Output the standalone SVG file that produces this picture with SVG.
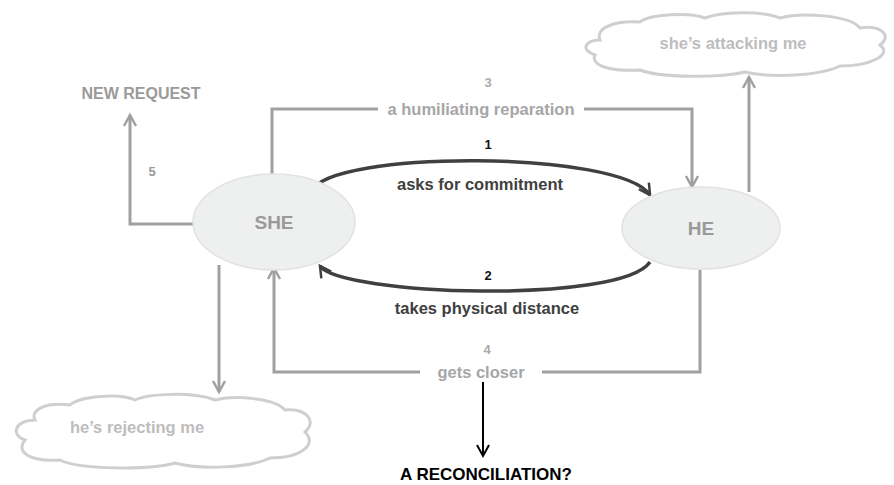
<svg xmlns="http://www.w3.org/2000/svg" width="894" height="485" viewBox="0 0 894 485">
<defs>
<style>
.t{font-family:"Liberation Sans",Arial,sans-serif;font-weight:bold;text-anchor:middle}
.g{fill:none;stroke:#a0a0a0;stroke-width:3}
.d{fill:none;stroke:#404040;stroke-width:3.5}
.node{fill:#eeefef;stroke:#e2e2e2;stroke-width:1.5}
.cloud{fill:#fff;stroke:#cfcfcf;stroke-width:3}
</style>
<marker id="ag" markerUnits="userSpaceOnUse" markerWidth="16" markerHeight="16" refX="12" refY="7" orient="auto" viewBox="0 0 16 16">
<path d="M1,1 L12,7 L1,13" fill="none" stroke="#a0a0a0" stroke-width="2.5"/>
</marker>
<marker id="ad" markerUnits="userSpaceOnUse" markerWidth="16" markerHeight="16" refX="12" refY="7" orient="auto" viewBox="0 0 16 16">
<path d="M1,1 L12,7 L1,13" fill="none" stroke="#404040" stroke-width="2.5"/>
</marker>
<marker id="ab" markerUnits="userSpaceOnUse" markerWidth="16" markerHeight="16" refX="12" refY="7" orient="auto" viewBox="0 0 16 16">
<path d="M1,1 L12,7 L1,13" fill="none" stroke="#000" stroke-width="2"/>
</marker>
</defs>
<rect width="894" height="485" fill="#fff"/>

<g id="connectors">
<!-- 3 humiliating reparation -->
<polyline class="g" points="272,188 272,109 378,109"/>
<polyline class="g" points="584,109 692,109 692,187" marker-end="url(#ag)"/>
<!-- 4 gets closer -->
<polyline class="g" points="700,270 700,372 542,372"/>
<polyline class="g" points="420,372 274,372 274,268" marker-end="url(#ag)"/>
<!-- 5 new request -->
<polyline class="g" points="193,224 130,224 130,115" marker-end="url(#ag)"/>
<!-- to clouds -->
<line class="g" x1="749" y1="192" x2="749" y2="77" marker-end="url(#ag)"/>
<line class="g" x1="219" y1="265" x2="219" y2="392" marker-end="url(#ag)"/>
<!-- 1 -->
<path class="d" d="M312,191 C330,150 620,150 650,195" marker-end="url(#ad)"/>
<!-- 2 -->
<path class="d" d="M650,262 C620,305 340,295 320,266" marker-end="url(#ad)"/>
<!-- reconciliation -->
<line x1="483" y1="382" x2="483" y2="456" stroke="#000" stroke-width="2" marker-end="url(#ab)"/>
</g>

<g id="she">
<ellipse class="node" cx="274" cy="222" rx="81" ry="48"/>
<text class="t" x="274" y="229" font-size="19" fill="#9a9a9a">SHE</text>
</g>
<g id="he">
<ellipse class="node" cx="701" cy="228" rx="79" ry="41"/>
<text class="t" x="701" y="235" font-size="19" fill="#9a9a9a">HE</text>
</g>

<g id="cloud-attacking">
<path class="cloud" d="M600 40 C585 40,580 50,595 55 C590 65,610 72,640 70 C660 78,720 78,745 72 C770 78,820 76,840 66 C870 66,893 55,880 45 C893 35,880 25,860 28 C850 15,800 12,780 18 C760 10,720 12,705 18 C690 12,650 14,640 22 C615 20,595 28,600 40 Z"/>
<text class="t" x="733" y="49" font-size="16.5" fill="#bdbdbd">she’s attacking me</text>
</g>
<g id="cloud-rejecting">
<path class="cloud" d="M35 420 C15 420,10 435,25 440 C15 452,30 462,60 460 C80 470,150 470,175 463 C200 470,250 468,270 458 C300 458,318 445,305 432 C318 420,305 408,285 410 C275 398,235 395,215 400 C195 392,150 393,135 400 C120 393,80 396,70 405 C45 402,30 410,35 420 Z"/>
<text class="t" x="137" y="433" font-size="16.5" fill="#bdbdbd">he’s rejecting me</text>
</g>

<g id="labels">
<text class="t" x="488" y="87" font-size="13" fill="#aaaaaa">3</text>
<text class="t" x="481" y="115" font-size="16.5" fill="#a6a6a6">a humiliating reparation</text>
<text class="t" x="488" y="149" font-size="13" fill="#111">1</text>
<text class="t" x="480" y="190" font-size="16.5" fill="#404040">asks for commitment</text>
<text class="t" x="488" y="280" font-size="13" fill="#111">2</text>
<text class="t" x="487" y="314" font-size="16.5" fill="#404040">takes physical distance</text>
<text class="t" x="487" y="354" font-size="13" fill="#aaaaaa">4</text>
<text class="t" x="481" y="378" font-size="16.5" fill="#a6a6a6">gets closer</text>
<text class="t" x="152" y="176" font-size="13" fill="#999">5</text>
<text class="t" x="141" y="99" font-size="16" fill="#9a9a9a">NEW REQUEST</text>
<text class="t" x="486" y="480" font-size="17" fill="#000">A RECONCILIATION?</text>
</g>
</svg>
